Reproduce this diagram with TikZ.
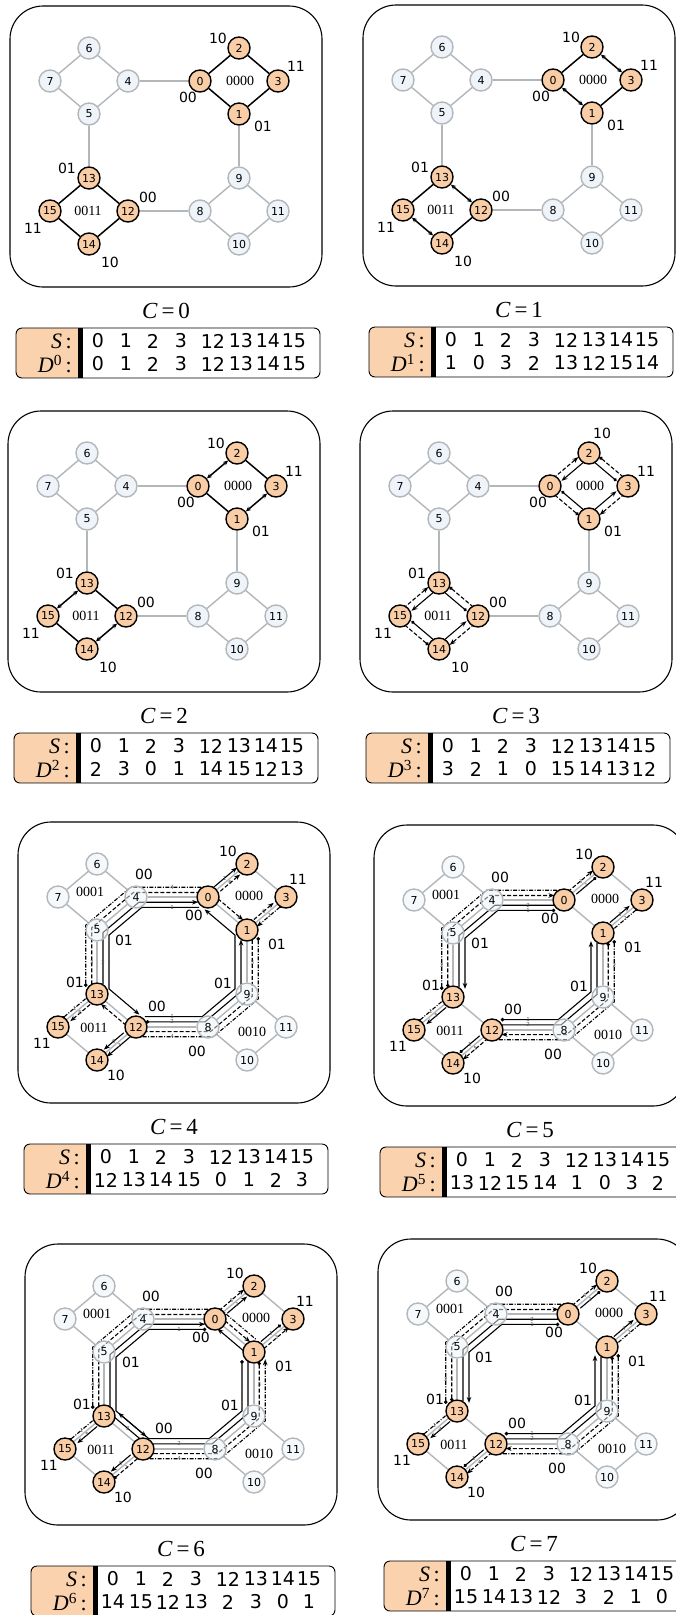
\documentclass[tikz,border=0pt]{standalone}
\usepackage{fontspec}
\setmainfont{Liberation Serif}
\newfontfamily\sansnum{DejaVu Sans}
\usetikzlibrary{arrows.meta,calc}
\pgfdeclarelayer{bg}
\pgfdeclarelayer{back}
\pgfsetlayers{bg,back,main}
\definecolor{nbOrange}{HTML}{F9CDA6}
\definecolor{nbGray}{HTML}{EEF4F9}
\definecolor{nbLine}{HTML}{B3B7BA}
\definecolor{nbPeach}{HTML}{FAD2AE}
\newcommand{\fNode}{\sansnum\fontsize{11}{12}\selectfont}
\newcommand{\fBit}{\sansnum\fontsize{14}{16}\selectfont}
\newcommand{\fGrp}{\fontsize{14}{16}\selectfont}
\newcommand{\fCap}{\fontsize{23}{25}\selectfont}
\newcommand{\fCell}{\sansnum\fontsize{19}{21}\selectfont}
\newcommand{\fHead}{\fontsize{22}{24}\selectfont}
\newcommand{\fStep}{\sansnum\fontsize{5.5}{6}\selectfont}
\newcounter{stepno}

\tikzset{
  graynode/.style={circle,draw=nbLine,fill=nbGray,line width=1.4pt,
    minimum size=22pt,inner sep=0pt,font=\fNode},
  ghostnode/.style={graynode,fill opacity=.5,text opacity=1},
  orangenode/.style={graynode,draw=black,fill=nbOrange},
  grayedge/.style={draw=nbLine,line width=1.4pt},
  blackedge/.style={draw=black,line width=1.5pt},
  twoway/.style={blackedge,
    {Stealth[length=5pt,width=4.5pt]}-{Stealth[length=5pt,width=4.5pt]}},
  sol/.style={line width=1.1pt},
  dsh/.style={line width=1.1pt,dash pattern=on 4pt off 2pt},
  dd/.style={line width=1.1pt,dash pattern=on 4pt off 1.5pt on 1pt off 1.5pt},
  cut/.style={shorten <=#1,shorten >=#1},
  arr/.style={-{Stealth[length=6pt,width=4.6pt]}},
  ballarr/.style={{Circle[length=3.4pt]}-{Stealth[length=6pt,width=4.6pt]}},
  ball/.style={{Circle[length=3.4pt]}-},
  endball/.style={-{Circle[length=3.4pt]}},
  steplbl/.style={font=\fStep,text=black!65,inner sep=.5pt},
  bitlbl/.style={font=\fBit,inner sep=0pt},
  grplbl/.style={font=\fGrp,inner sep=0pt},
  panelbox/.style={draw=black,line width=1.1pt,rounded corners=33pt},
  caplbl/.style={font=\fCap},
  rowhead/.style={font=\fHead,anchor=east,inner sep=0pt},
  cell/.style={font=\fCell,inner sep=0pt},
}

% the sixteen nodes of one panel, box corner at the scope origin
\newcommand{\graphnodes}[2]{%
  \foreach \n/\x/\y in {6/79/42,7/40/75,4/118/75,5/79/108,
      9/229/172,8/190/205,11/268/205,10/229/238}
    \node[#2] (#1\n) at (\x,\y) {\n};
  \foreach \n/\x/\y in {0/190/75,2/229/42,3/268/75,1/229/108,
      13/79/172,15/40/205,12/118/205,14/79/238}
    \node[orangenode] (#1\n) at (\x,\y) {\n};
  \coordinate (#1rc) at (154,140);
  \coordinate (#1tc) at (229,75);
  \coordinate (#1bc) at (79,205);
  \begin{pgfonlayer}{back}
    \foreach \a/\b in {6/7,6/4,7/5,4/5,4/0,5/13,1/9,9/8,9/11,8/10,10/11,12/8}
      \draw[grayedge] (#1\a) -- (#1\b);
  \end{pgfonlayer}}

\newcommand{\diamondedges}[1]{%
  \begin{pgfonlayer}{back}
    \foreach \a/\b in {0/2,2/3,3/1,1/0,13/12,12/14,14/15,15/13}
      \draw[grayedge] (#1\a) -- (#1\b);
  \end{pgfonlayer}}

% a lane through the nodes #5,#6, pulled to or pushed from centre #3;
% #7 is the step number written on its first hop
\newcommand{\route}[7]{%
  \stepcounter{stepno}%
  \foreach \v [count=\k] in {#6}{\ifnum\k=1 \global\let\firstv\v\fi}%
  \draw[#1] ($(#2#3)!#4!(#2#5)$)
    \foreach \v in {#6}{ -- ($(#2#3)!#4!(#2\v)$)};
  \path ($(#2#3)!#4!(#2#5)$) -- ($(#2#3)!#4!(#2\firstv)$)
    node[steplbl,pos=.5] (st\arabic{stepno}) {#7};}

\newcommand{\upperlabels}[3]{%
  \foreach \t/\x/\y [count=\i] in {10/#2/#3,11/286/60,00/178/91,01/253/120,
      01/57/162,00/138/191,11/23/222,10/100/256}
    \node[bitlbl] (#1b\i) at (\x,\y) {\t};
  \node[grplbl] (#1g1) at (230,75) {0000};
  \node[grplbl] (#1g2) at (78,205) {0011};}

\newcommand{\lowerlabels}[1]{%
  \foreach \t/\x/\y [count=\i] in {10/210/29,11/280/57,00/176/93,01/259/122,
      01/57/160,00/139/184,11/24/221,10/98/253,
      00/126/52,01/106/118,01/205/161,00/179/229}
    \node[bitlbl] (#1b\i) at (\x,\y) {\t};
  \foreach \t/\x/\y [count=\i] in {0000/231/74,0001/72/70,0011/76/206,0010/234/210}
    \node[grplbl] (#1g\i) at (\x,\y) {\t};}

% box, caption and S/D table of one panel
\newcommand{\panelframe}[4]{%
  \begin{scope}[shift={(#1,#2)}]
    \draw[panelbox] (0,0) rectangle (312,281);
    \node[caplbl] (cap#3) at (156,305) {\textit{C}\,=\,#3};
    \begin{scope}[shift={(6,322)}]
      \begin{scope}
        \clip[rounded corners=6pt] (0,0) rectangle (304,50);
        \fill[nbPeach] (0,0) rectangle (64,50);
      \end{scope}
      \draw[line width=.9pt,rounded corners=6pt] (0,0) rectangle (304,50);
      \fill (62,0) rectangle (67,50);
      \node[rowhead] (s#3) at (56,13) {\textit{S}\,:};
      \node[rowhead] (d#3) at (56,36) {\textit{D}\textsuperscript{#3}\,:};
      \foreach \v [count=\i] in {0,1,2,3,12,13,14,15}{
        \pgfmathsetmacro\cx{{82,110,137,165,197,225,252,278}[\i-1]}
        \node[cell] (s#3c\i) at (\cx,13) {\v};}
      \foreach \v [count=\i] in {#4}{
        \pgfmathsetmacro\cx{{82,110,137,165,197,225,252,278}[\i-1]}
        \node[cell] (d#3c\i) at (\cx,36) {\v};}
    \end{scope}
  \end{scope}}

% lanes of C=5 and C=7: two half rings; #2,#3 step numbers of the last hops
\newcommand{\splitroutes}[3]{%
  \begin{pgfonlayer}{back}
    \route{sol,ballarr,cut=3pt}{#1}{rc}{.84}{0}{4,5,13}{1}
    \route{sol,cut=7pt}{#1}{rc}{.92}{0}{4,5,13}{2}
    \route{dsh,ballarr,cut=12pt}{#1}{rc}{1.07}{13}{5,4,0}{1}
    \route{dd,ball,cut=12pt}{#1}{rc}{1.15}{13}{5,4,0}{2}
    \route{sol,ballarr,cut=3pt}{#1}{rc}{.84}{12}{8,9,1}{1}
    \route{sol,cut=7pt}{#1}{rc}{.92}{12}{8,9,1}{2}
    \route{dsh,ballarr,cut=12pt}{#1}{rc}{1.07}{1}{9,8,12}{1}
    \route{dd,ball,cut=12pt}{#1}{rc}{1.15}{1}{9,8,12}{2}
    \route{dsh,arr,cut=13pt}{#1}{tc}{1.15}{0}{2}{#2}
    \route{sol,ball,cut=9pt}{#1}{tc}{.86}{2}{0}{1}
    \route{sol,arr,cut=9pt}{#1}{tc}{.86}{1}{3}{#2}
    \route{dd,ball,cut=13pt}{#1}{tc}{1.15}{3}{1}{1}
    \route{sol,arr,cut=9pt}{#1}{bc}{.86}{13}{15}{#3}
    \route{dd,ball,cut=13pt}{#1}{bc}{1.15}{15}{13}{1}
    \route{sol,ball,cut=9pt}{#1}{bc}{.86}{14}{12}{1}
    \route{dsh,arr,cut=13pt}{#1}{bc}{1.15}{12}{14}{#3}
  \end{pgfonlayer}}

\begin{document}
\begin{tikzpicture}[x=1pt,y=-1pt]
  \useasboundingbox (0,0) rectangle (675,1615);
  \begin{pgfonlayer}{bg}
    \fill[white] (0,0) rectangle (675,1615);
  \end{pgfonlayer}

  % C = 0
  \panelframe{10}{6}{0}{0,1,2,3,12,13,14,15}
  \begin{scope}[shift={(10,6)}]
    \graphnodes{a}{graynode}
    \upperlabels{a}{208}{32}
    \foreach \a/\b in {0/2,2/3,3/1,1/0,13/12,12/14,14/15,15/13}
      \draw[blackedge] (a\a) -- (a\b);
  \end{scope}

  % C = 1
  \panelframe{363}{5}{1}{1,0,3,2,13,12,15,14}
  \begin{scope}[shift={(363,5)}]
    \graphnodes{b}{graynode}
    \upperlabels{b}{208}{32}
    \foreach \a/\b in {0/2,3/1,15/13,12/14}
      \draw[blackedge] (b\a) -- (b\b);
    \foreach \a/\b in {0/1,2/3,13/12,15/14}
      \draw[twoway] (b\a) -- (b\b);
  \end{scope}

  % C = 2
  \panelframe{8}{411}{2}{2,3,0,1,14,15,12,13}
  \begin{scope}[shift={(8,411)}]
    \graphnodes{c}{graynode}
    \upperlabels{c}{208}{32}
    \foreach \a/\b in {0/1,2/3,13/12,15/14}
      \draw[blackedge] (c\a) -- (c\b);
    \foreach \a/\b in {0/2,1/3,13/15,14/12}
      \draw[twoway] (c\a) -- (c\b);
  \end{scope}

  % C = 3
  \panelframe{360}{411}{3}{3,2,1,0,15,14,13,12}
  \begin{scope}[shift={(360,411)}]
    \graphnodes{d}{graynode}
    \upperlabels{d}{242}{22}
    \begin{pgfonlayer}{back}
      \route{sol,ballarr,cut=8pt}{d}{tc}{.86}{3}{2,0}{}
      \route{sol,ballarr,cut=8pt}{d}{tc}{.86}{0}{1,3}{}
      \route{dsh,ballarr,cut=14pt}{d}{tc}{1.15}{1}{0,2}{}
      \route{dsh,ballarr,cut=14pt}{d}{tc}{1.15}{2}{3,1}{}
      \route{sol,ballarr,cut=8pt}{d}{bc}{.86}{12}{13,15}{}
      \route{sol,ballarr,cut=8pt}{d}{bc}{.86}{15}{14,12}{}
      \route{dsh,ballarr,cut=14pt}{d}{bc}{1.15}{14}{15,13}{}
      \route{dsh,ballarr,cut=14pt}{d}{bc}{1.15}{13}{12,14}{}
    \end{pgfonlayer}
  \end{scope}

  % C = 4
  \panelframe{18}{822}{4}{12,13,14,15,0,1,2,3}
  \begin{scope}[shift={(18,822)}]
    \graphnodes{e}{ghostnode}
    \diamondedges{e}
    \lowerlabels{e}
    \begin{pgfonlayer}{back}
      \route{sol,arr,cut=3pt}{e}{rc}{.84}{0}{4,5,13,12}{1}
      \route{sol,arr,cut=7pt}{e}{rc}{.92}{13}{5,4,0}{2}
      \route{dsh,arr,cut=12pt}{e}{rc}{1.07}{13}{5,4,0,1}{3}
      \route{dd,endball,cut=12pt}{e}{rc}{1.15}{0}{4,5,13}{4}
      \route{sol,arr,cut=3pt}{e}{rc}{.84}{12}{8,9,1,0}{1}
      \route{sol,ballarr,cut=7pt}{e}{rc}{.92}{12}{8,9,1}{2}
      \route{dsh,arr,cut=12pt}{e}{rc}{1.07}{1}{9,8,12,13}{3}
      \route{dd,endball,cut=12pt}{e}{rc}{1.15}{12}{8,9,1}{4}
      \route{sol,arr,cut=13pt}{e}{tc}{1.15}{0}{2}{1}
      \route{dsh,arr,cut=9pt}{e}{tc}{.86}{0}{2}{6}
      \route{dsh,arr,cut=9pt}{e}{tc}{.86}{1}{3}{6}
      \route{dd,ballarr,cut=13pt}{e}{tc}{1.15}{3}{1}{1}
      \route{dsh,arr,cut=9pt}{e}{bc}{.86}{13}{15}{6}
      \route{dd,ball,cut=13pt}{e}{bc}{1.15}{15}{13}{1}
      \route{sol,arr,cut=9pt}{e}{bc}{.86}{12}{14}{6}
      \route{sol,arr,cut=13pt}{e}{bc}{1.15}{12}{14}{1}
    \end{pgfonlayer}
  \end{scope}

  % C = 5
  \panelframe{374}{825}{5}{13,12,15,14,1,0,3,2}
  \begin{scope}[shift={(374,825)}]
    \graphnodes{f}{ghostnode}
    \diamondedges{f}
    \lowerlabels{f}
    \splitroutes{f}{3}{5}
  \end{scope}

  % C = 6
  \panelframe{25}{1244}{6}{14,15,12,13,2,3,0,1}
  \begin{scope}[shift={(25,1244)}]
    \graphnodes{g}{ghostnode}
    \diamondedges{g}
    \lowerlabels{g}
    \begin{pgfonlayer}{back}
      \route{sol,ballarr,cut=3pt}{g}{rc}{.84}{0}{4,5,13,12}{1}
      \route{sol,arr,cut=7pt}{g}{rc}{.92}{12}{13,5,4,0}{2}
      \route{dsh,arr,cut=12pt}{g}{rc}{1.07}{13}{5,4,0,1}{3}
      \route{dd,ball,cut=12pt}{g}{rc}{1.15}{13}{5,4,0,1}{4}
      \route{sol,ballarr,cut=3pt}{g}{rc}{.84}{1}{9,8,12,13}{1}
      \route{sol,arr,cut=7pt}{g}{rc}{.92}{12}{8,9,1,0}{2}
      \route{dsh,ball,cut=12pt}{g}{rc}{1.07}{1}{9,8,12}{3}
      \route{dd,arr,cut=12pt}{g}{rc}{1.15}{12}{8,9,1}{4}
      \route{dsh,arr,cut=13pt}{g}{tc}{1.15}{0}{2}{5}
      \route{sol,arr,cut=9pt}{g}{tc}{.86}{0}{2}{1}
      \route{sol,ball,cut=9pt}{g}{tc}{.86}{3}{1}{1}
      \route{dsh,arr,cut=13pt}{g}{tc}{1.15}{1}{3}{3}
      \route{sol,arr,cut=9pt}{g}{bc}{.86}{13}{15}{5}
      \route{dd,ball,cut=13pt}{g}{bc}{1.15}{15}{13}{1}
      \route{sol,arr,cut=9pt}{g}{bc}{.86}{12}{14}{5}
      \route{dsh,ball,cut=13pt}{g}{bc}{1.15}{14}{12}{1}
    \end{pgfonlayer}
  \end{scope}

  % C = 7
  \panelframe{378}{1239}{7}{15,14,13,12,3,2,1,0}
  \begin{scope}[shift={(378,1239)}]
    \graphnodes{h}{ghostnode}
    \diamondedges{h}
    \lowerlabels{h}
    \splitroutes{h}{4}{4}
  \end{scope}
\end{tikzpicture}
\end{document}
